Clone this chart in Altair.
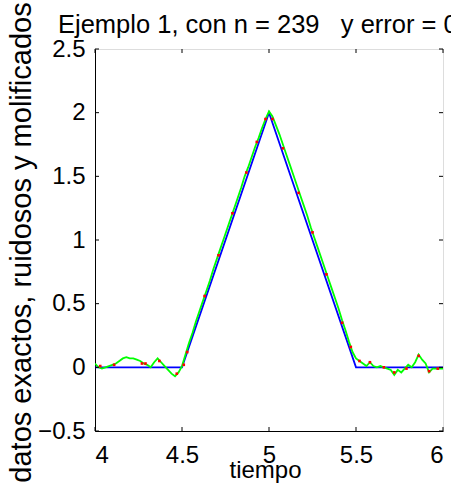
import altair as alt
import pandas as pd

# exact triangle
exact_t = [4.0, 4.5, 5.0, 5.5, 6.0]
exact_y = [0.0, 0.0, 2.0, 0.0, 0.0]

# mollified (green) line
moll_t = [4.00, 4.02, 4.04, 4.06, 4.08, 4.10, 4.12, 4.14, 4.16, 4.18,
          4.20, 4.22, 4.24, 4.26, 4.28, 4.30, 4.32, 4.34, 4.36, 4.38,
          4.40, 4.42, 4.44, 4.46, 4.48, 4.50, 4.52, 4.54, 4.56, 4.58,
          4.60, 4.62, 4.64, 4.66, 4.68, 4.70, 4.72, 4.74, 4.76, 4.78,
          4.80, 4.82, 4.84, 4.86, 4.88, 4.90, 4.92, 4.94, 4.96, 4.98,
          5.00, 5.02, 5.04, 5.06, 5.08, 5.10, 5.12, 5.14, 5.16, 5.18,
          5.20, 5.22, 5.24, 5.26, 5.28, 5.30, 5.32, 5.34, 5.36, 5.38,
          5.40, 5.42, 5.44, 5.46, 5.48, 5.50, 5.52, 5.54, 5.56, 5.58,
          5.60, 5.62, 5.64, 5.66, 5.68, 5.70, 5.72, 5.74, 5.76, 5.78,
          5.80, 5.82, 5.84, 5.86, 5.88, 5.90, 5.92, 5.94, 5.96, 5.98, 6.00]
moll_y = [0.03, 0.00, -0.01, 0.00, 0.01, 0.02, 0.03, 0.05, 0.07, 0.08,
          0.07, 0.07, 0.06, 0.05, 0.03, 0.02, 0.00, 0.04, 0.07, 0.04,
          0.01, -0.02, -0.05, -0.07, -0.04, 0.01, 0.10, 0.19, 0.27, 0.36,
          0.44, 0.52, 0.60, 0.68, 0.77, 0.85, 0.93, 1.01, 1.09, 1.17,
          1.25, 1.33, 1.41, 1.50, 1.57, 1.65, 1.73, 1.80, 1.88, 1.95,
          2.01, 1.97, 1.90, 1.83, 1.75, 1.67, 1.59, 1.51, 1.43, 1.35,
          1.27, 1.19, 1.10, 1.02, 0.94, 0.86, 0.78, 0.70, 0.62, 0.54,
          0.46, 0.37, 0.29, 0.20, 0.12, 0.07, 0.05, 0.03, 0.01, 0.04,
          0.01, 0.00, 0.01, 0.00, -0.01, -0.02, -0.06, -0.02, -0.04, -0.01,
          0.02, 0.00, 0.04, 0.10, 0.06, 0.03, -0.04, -0.01, -0.01, -0.01, -0.01]

# noisy samples (red dots)
noisy_t = [4.03, 4.11, 4.27, 4.29, 4.37, 4.47, 4.51, 4.53, 4.63, 4.71,
           4.79, 4.87, 4.93, 4.98, 5.02, 5.08, 5.17, 5.25, 5.33, 5.42,
           5.47, 5.52, 5.58, 5.66, 5.72, 5.79, 5.86, 5.92, 5.97]
noisy_y = [0.01, 0.02, 0.03, 0.03, 0.05, -0.05, 0.02, 0.12, 0.56, 0.88,
           1.21, 1.53, 1.77, 1.95, 1.95, 1.72, 1.37, 1.06, 0.73, 0.35,
           0.16, 0.05, 0.04, 0.00, -0.04, -0.01, 0.09, -0.03, -0.01]

x_ticks = [4, 4.5, 5, 5.5, 6]
y_ticks = [-0.5, 0, 0.5, 1, 1.5, 2, 2.5]

W, H = 348, 382
FONT = "Liberation Sans"

xs = alt.Scale(domain=[4, 6], nice=False, zero=False)
ys = alt.Scale(domain=[-0.5, 2.5], nice=False, zero=False)

x_axis = alt.Axis(values=x_ticks, format="~g", ticks=False, grid=False,
                  labelPadding=12, labelFontSize=24, labelFont=FONT,
                  labelColor="black", domainColor="black",
                  title="tiempo", titleFont=FONT, titleFontSize=24,
                  titleFontWeight="normal", titleColor="black",
                  titleX=170, titleY=46, titleBaseline="alphabetic")
y_axis = alt.Axis(values=y_ticks, format="~g", ticks=False, grid=False,
                  labelPadding=10, labelFontSize=24, labelFont=FONT,
                  labelColor="black", domainColor="black",
                  title="datos exactos, ruidosos y molificados",
                  titleFont=FONT, titleFontSize=29, titleFontWeight="normal",
                  titleColor="black", titleAngle=-90, titleX=-65,
                  titleY=H / 2 + 2, titleBaseline="alphabetic", titleAlign="center")

exact_df = pd.DataFrame({"t": exact_t, "y": exact_y})
moll_df = pd.DataFrame({"t": moll_t, "y": moll_y})
noisy_df = pd.DataFrame({"t": noisy_t, "y": noisy_y})
xt_df = pd.DataFrame({"t": x_ticks})
yt_df = pd.DataFrame({"y": y_ticks})

exact_line = alt.Chart(exact_df).mark_line(color="#0000ff", strokeWidth=1.8, clip=True).encode(
    x=alt.X("t:Q", scale=xs, axis=x_axis),
    y=alt.Y("y:Q", scale=ys, axis=y_axis),
)
moll_line = alt.Chart(moll_df).mark_line(color="#00ff00", strokeWidth=1.8, clip=True).encode(
    x=alt.X("t:Q", scale=xs), y=alt.Y("y:Q", scale=ys)
)
noisy_pts = alt.Chart(noisy_df).mark_square(color="#ff0000", size=7, opacity=1, clip=True).encode(
    x=alt.X("t:Q", scale=xs), y=alt.Y("y:Q", scale=ys)
)

TL = 4
xt_bot = alt.Chart(xt_df).mark_rule(color="black", strokeWidth=1).encode(
    x=alt.X("t:Q", scale=xs), y=alt.value(H), y2=alt.value(H - TL))
xt_top = alt.Chart(xt_df).mark_rule(color="black", strokeWidth=1).encode(
    x=alt.X("t:Q", scale=xs), y=alt.value(0), y2=alt.value(TL))
yt_left = alt.Chart(yt_df).mark_rule(color="black", strokeWidth=1).encode(
    y=alt.Y("y:Q", scale=ys), x=alt.value(0), x2=alt.value(TL))
yt_right = alt.Chart(yt_df).mark_rule(color="black", strokeWidth=1).encode(
    y=alt.Y("y:Q", scale=ys), x=alt.value(W), x2=alt.value(W - TL))

chart = alt.layer(
    exact_line, moll_line, noisy_pts, xt_bot, xt_top, yt_left, yt_right
).properties(
    width=W, height=H,
    title=alt.TitleParams(
        text="Ejemplo 1, con n = 239 \u00a0 y error = 0.05",
        font=FONT, fontSize=25.5, fontWeight="normal", color="black",
        anchor="start", frame="group", dx=-37, dy=39, offset=2,
    ),
    autosize=alt.AutoSizeParams(type="none"),
    padding={"left": 95, "top": 49, "right": 8, "bottom": 54},
).configure_view(stroke="black", strokeWidth=1).configure(background="white")

chart.save("out.html", embed_options={"renderer": "svg", "actions": False})
